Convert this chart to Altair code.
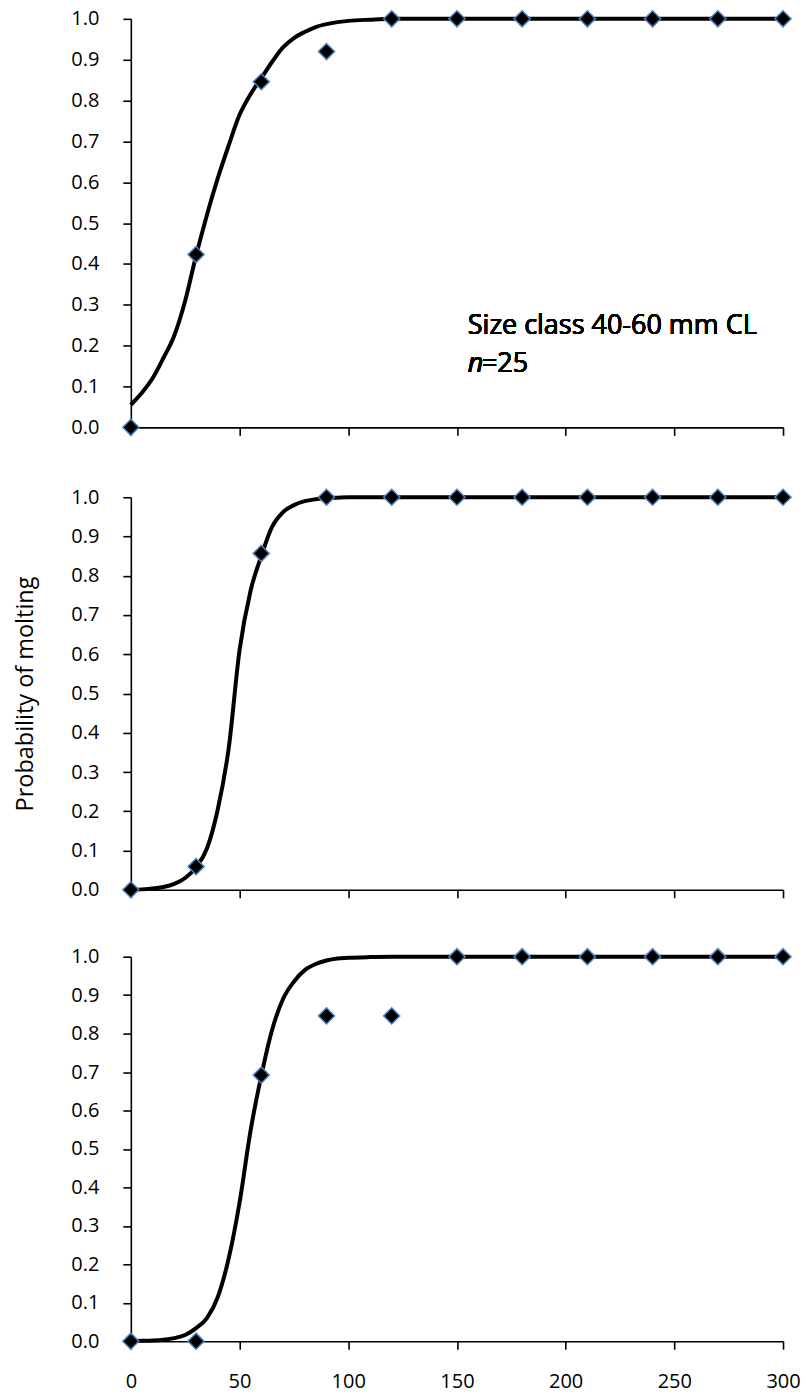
import altair as alt
import pandas as pd

# ---- data ----
obs_days = [0, 30, 60, 90, 120, 150, 180, 210, 240, 270, 300]
obs_p_top = [0.0, 0.423, 0.846, 0.92, 1.0, 1.0, 1.0, 1.0, 1.0, 1.0, 1.0]
obs_p_mid = [0.0, 0.059, 0.857, 1.0, 1.0, 1.0, 1.0, 1.0, 1.0, 1.0, 1.0]
obs_p_bot = [0.0, 0.0, 0.692, 0.846, 0.846, 1.0, 1.0, 1.0, 1.0, 1.0, 1.0]

curve_days = [0, 5, 10, 15, 20, 25, 30, 35, 40, 45, 50, 55, 60, 65, 70, 75,
              80, 85, 90, 95, 100, 110, 120, 300]
curve_p_top = [0.055, 0.084, 0.12, 0.17, 0.225, 0.31, 0.42, 0.52, 0.61, 0.69,
               0.765, 0.815, 0.855, 0.895, 0.93, 0.953, 0.968, 0.98, 0.987,
               0.992, 0.995, 0.998, 1.0, 1.0]
curve_p_mid = [0.0, 0.001, 0.003, 0.007, 0.015, 0.03, 0.057, 0.105, 0.205,
               0.36, 0.61, 0.76, 0.85, 0.925, 0.962, 0.98, 0.99, 0.995, 0.998,
               0.999, 1.0, 1.0, 1.0, 1.0]
curve_p_bot = [0.0, 0.001, 0.002, 0.004, 0.008, 0.016, 0.034, 0.06, 0.115,
               0.215, 0.36, 0.545, 0.69, 0.81, 0.89, 0.935, 0.965, 0.981,
               0.99, 0.995, 0.997, 0.999, 1.0, 1.0]

x_ticks = [0, 50, 100, 150, 200, 250, 300]
y_ticks = [0.0, 0.1, 0.2, 0.3, 0.4, 0.5, 0.6, 0.7, 0.8, 0.9, 1.0]

y_title = "Probability of molting"
note_line1 = "Size class 40-60 mm CL"
note_n = "n"
note_n_val = "=25"

FONT = "Open Sans"
W = 653


def panel(obs, curve, height, show_x_labels, title=None, note=False):
    obs_df = pd.DataFrame({"day": obs_days, "p": obs})
    cur_df = pd.DataFrame({"day": curve_days, "p": curve})
    xscale = alt.Scale(domain=[0, 300], nice=False, zero=False)
    yscale = alt.Scale(domain=[0, 1], nice=False)
    xaxis = alt.Axis(values=x_ticks, labels=show_x_labels, title=None,
                     labelPadding=22, labelFlush=False, labelOverlap=False)
    if title:
        yaxis = alt.Axis(values=y_ticks, format=".1f", title=title,
                         titleFont=FONT, titleFontSize=23.5,
                         titleFontWeight="normal", titleColor="black",
                         titlePadding=33, labelOverlap=False)
    else:
        yaxis = alt.Axis(values=y_ticks, format=".1f", title=None,
                         labelOverlap=False)
    enc_x = alt.X("day:Q", scale=xscale, axis=xaxis)
    enc_y = alt.Y("p:Q", scale=yscale, axis=yaxis)
    line = alt.Chart(cur_df).mark_line(
        color="black", strokeWidth=4, interpolate="monotone"
    ).encode(x=enc_x, y=enc_y)
    pts = alt.Chart(obs_df).mark_point(
        shape="diamond", filled=True, fill="black", stroke="#4F81BD",
        strokeWidth=1.5, size=260, opacity=1
    ).encode(x=enc_x, y=enc_y)
    layers = [line, pts]
    if note:
        t1 = alt.Chart(obs_df).mark_text(
            text=note_line1, align="left", baseline="middle", font=FONT,
            fontSize=27, fontWeight="normal", color="black"
        ).encode(x=alt.datum(155), y=alt.datum(0.247))
        t2 = alt.Chart(obs_df).mark_text(
            text=note_n, align="left", baseline="middle", font=FONT,
            fontSize=27, fontWeight="normal", fontStyle="italic",
            color="black"
        ).encode(x=alt.datum(155), y=alt.datum(0.154))
        t3 = alt.Chart(obs_df).mark_text(
            text=note_n_val, align="left", baseline="middle", font=FONT,
            fontSize=27, fontWeight="normal", color="black"
        ).encode(x=alt.datum(161.5), y=alt.datum(0.154))
        layers += [t1, t2, t3]
    return alt.layer(*layers).properties(width=W, height=height)


p1 = panel(obs_p_top, curve_p_top, 409, False, note=True)
p2 = panel(obs_p_mid, curve_p_mid, 393, False, title=y_title)
p3 = panel(obs_p_bot, curve_p_bot, 385, True)

upper = alt.vconcat(p1, p2, spacing=46)
chart = alt.vconcat(upper, p3, spacing=43).properties(
    padding={"left": 13, "top": 6, "right": 5, "bottom": 5}
).configure_view(
    stroke=None
).configure_axis(
    grid=False, domainColor="black", domainWidth=1.6, tickColor="black",
    tickWidth=1.6, tickSize=8, labelFont=FONT, labelFontSize=20,
    labelColor="black", labelPadding=24
)

chart.save("out.html", embed_options={"renderer": "svg", "actions": False})
